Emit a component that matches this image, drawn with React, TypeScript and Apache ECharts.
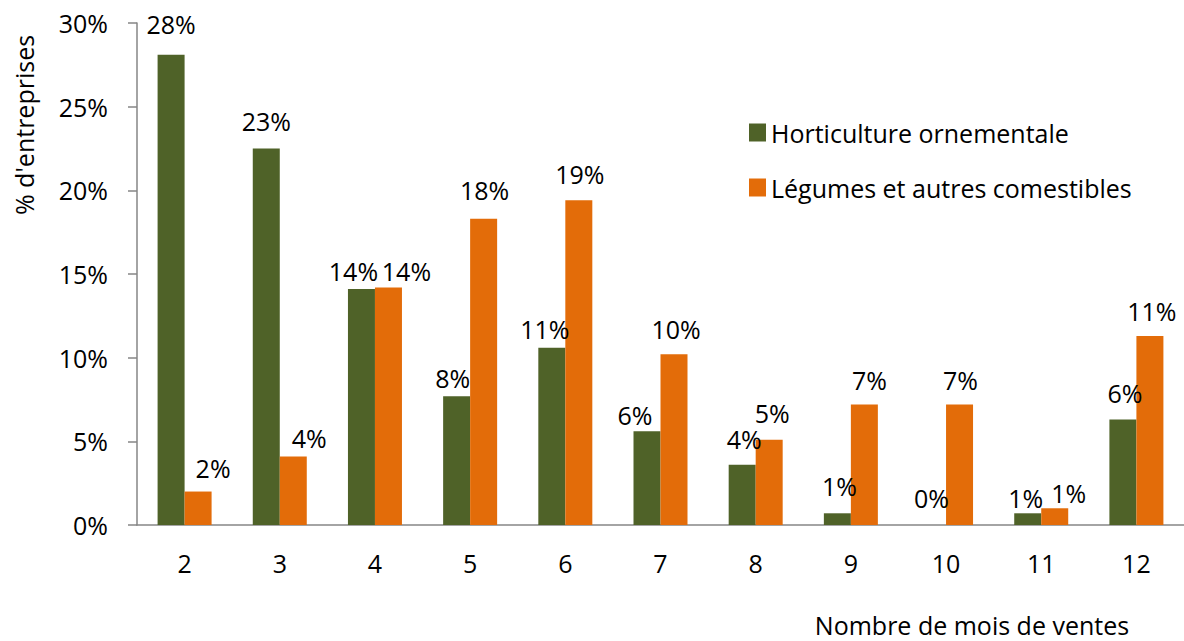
import React, { useEffect, useRef } from "react";
import * as echarts from "echarts";

const categories = ["2", "3", "4", "5", "6", "7", "8", "9", "10", "11", "12"];
const horticulture = [28.1, 22.5, 14.1, 7.7, 10.6, 5.6, 3.6, 0.7, 0, 0.7, 6.3];
const legumes = [2.0, 4.1, 14.2, 18.3, 19.4, 10.2, 5.1, 7.2, 7.2, 1.0, 11.3];
const yTicks = [0, 5, 10, 15, 20, 25, 30];
const seriesNames = ["Horticulture ornementale", "Légumes et autres comestibles"];

// label placement tweaks (style only): [dx, dy]
const greenLabelShift = [[0, -5], [0, -2], [-8, 7], [-4, 7], [-7, 7], [-12, 9], [2, 0], [2, -2], [-1, -2], [-2, 10], [2, -1]];
const orangeLabelShift = [[15, 2], [16, 7], [18, 9], [1, -3], [1, -1], [2, 0], [3, -1], [5, 1], [1, 1], [14, 10], [2, 1]];

const FONT = "Open Sans";
const FS = 25;
const GREEN = "#4F6228";
const ORANGE = "#E36C09";

export default function App() {
  const ref = useRef<HTMLDivElement>(null);
  useEffect(() => {
    if (!ref.current) return;
    const chart = echarts.init(ref.current, undefined, { renderer: "svg" });
    const mk = (vals: number[], shifts: number[][]) =>
      vals.map((v, i) => ({ value: v, label: { offset: shifts[i] } }));
    const labelCfg = {
      show: true,
      position: "top",
      distance: 13,
      fontSize: FS,
      color: "#000",
      fontFamily: FONT,
      formatter: (p: any) => Math.round(p.value) + "%",
    };
    chart.setOption({
      animation: false,
      textStyle: { fontFamily: FONT },
      grid: { left: 137, top: 23, width: 1048, height: 502 },
      legend: {
        orient: "vertical",
        left: 744,
        top: 115,
        itemWidth: 17,
        itemHeight: 18,
        itemGap: 30,
        icon: "rect",
        textStyle: { fontFamily: FONT, fontSize: FS, color: "#000" },
        data: seriesNames,
      },
      xAxis: {
        type: "category",
        data: categories,
        axisLine: { lineStyle: { color: "#868686", width: 1.5 } },
        axisTick: { length: 8, lineStyle: { color: "#868686", width: 1.5 } },
        axisLabel: { margin: 25, fontSize: FS, color: "#000", fontFamily: FONT },
      },
      yAxis: {
        type: "value",
        min: yTicks[0],
        max: yTicks[yTicks.length - 1],
        interval: 5,
        splitLine: { show: false },
        axisLine: { show: true, lineStyle: { color: "#868686", width: 1.5 } },
        axisTick: { show: true, length: 9, lineStyle: { color: "#868686", width: 1.5 } },
        axisLabel: { formatter: "{value}%", margin: 29, fontSize: FS, color: "#000", fontFamily: FONT },
      },
      series: [
        {
          name: seriesNames[0],
          type: "bar",
          data: mk(horticulture, greenLabelShift),
          barWidth: 27,
          barGap: "0%",
          itemStyle: { color: GREEN },
          label: labelCfg,
        },
        {
          name: seriesNames[1],
          type: "bar",
          data: mk(legumes, orangeLabelShift),
          barWidth: 27,
          barGap: "0%",
          itemStyle: { color: ORANGE },
          label: labelCfg,
        },
      ],
      graphic: [
        {
          type: "text",
          x: 24,
          y: 125,
          rotation: Math.PI / 2,
          style: {
            text: "% d'entreprises",
            fontFamily: FONT,
            fontSize: FS,
            fill: "#000",
            align: "center",
            verticalAlign: "middle",
          },
        },
        {
          type: "text",
          x: 972,
          y: 625,
          style: {
            text: "Nombre de mois de ventes",
            fontFamily: FONT,
            fontSize: FS,
            fill: "#000",
            align: "center",
            verticalAlign: "middle",
          },
        },
      ],
    });
    return () => chart.dispose();
  }, []);
  return (
    <div
      ref={ref}
      style={{ position: "absolute", left: 0, top: 0, width: 1184, height: 641 }}
    />
  );
}
